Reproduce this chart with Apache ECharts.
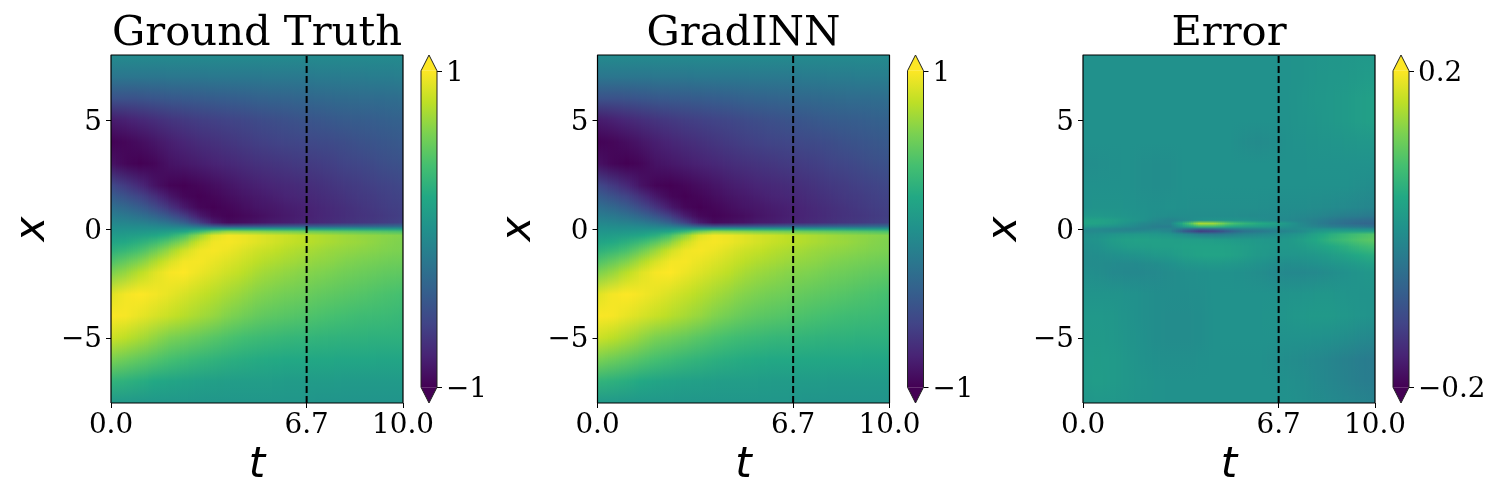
<!DOCTYPE html>
<html>
<head>
<meta charset="utf-8">
<style>
  html, body { margin: 0; background: #fff; }
  #chart { width: 1500px; height: 500px; }
</style>
<script src="https://cdn.jsdelivr.net/npm/echarts@6/dist/echarts.min.js"></script>
</head>
<body>
<div id="chart"></div>
<script>
const titles = ['Ground Truth', 'GradINN', 'Error']
const tTicks = [0, 6.7, 10]
const xTicks = [-5, 0, 5]
const slicePoint = 6.7
const frameT = [0, 10, 10, 0, 0]
const frameX = [-8, -8, 8, 8, -8]

const viridis = ['#440154', '#482475', '#414487', '#355f8d', '#2a788e', '#21918c',
  '#22a884', '#44bf70', '#7ad151', '#bddf26', '#fde725']

// sample columns
const tColumns = [0, 0.5, 1, 1.5, 2, 2.5, 3, 3.5, 4, 4.5, 5, 5.5, 6, 6.5, 7, 7.5, 8, 8.5, 9, 9.5, 10]

const fieldRows = [8, 7, 6, 5, 4, 3, 2, 1.5, 1, 0.6, 0.3, 0.12, 0, -0.12, -0.3, -0.6, -1, -1.5, -2, -3, -4, -5, -6, -7, -8]
const groundTruth = [
  [-.05, -.05, -.05, -.05, -.05, -.05, -.05, -.05, -.05, -.05, -.05, -.05, -.05, -.05, -.05, -.05, -.05, -.05, -.05, -.05, -.05],
  [-.22, -.22, -.22, -.22, -.21, -.21, -.21, -.2, -.2, -.2, -.2, -.19, -.19, -.19, -.18, -.18, -.17, -.17, -.16, -.16, -.15],
  [-.5, -.5, -.49, -.47, -.45, -.44, -.43, -.42, -.41, -.4, -.38, -.37, -.36, -.35, -.33, -.32, -.31, -.3, -.3, -.29, -.28],
  [-.85, -.82, -.78, -.74, -.7, -.67, -.64, -.62, -.6, -.58, -.55, -.53, -.51, -.49, -.47, -.45, -.43, -.42, -.41, -.39, -.38],
  [-.99, -.97, -.93, -.88, -.83, -.79, -.75, -.72, -.69, -.66, -.63, -.61, -.59, -.58, -.56, -.55, -.53, -.5, -.48, -.46, -.44],
  [-.9, -.97, -1, -.97, -.9, -.87, -.84, -.81, -.78, -.75, -.72, -.7, -.68, -.66, -.65, -.63, -.6, -.58, -.55, -.52, -.5],
  [-.56, -.66, -.77, -.9, -.98, -1, -.97, -.93, -.89, -.85, -.82, -.79, -.77, -.75, -.73, -.7, -.67, -.65, -.62, -.6, -.57],
  [-.41, -.5, -.6, -.73, -.87, -.97, -1, -.97, -.93, -.89, -.86, -.83, -.8, -.78, -.76, -.73, -.7, -.67, -.65, -.62, -.6],
  [-.27, -.33, -.42, -.55, -.7, -.86, -.97, -1, -.97, -.93, -.89, -.87, -.84, -.82, -.79, -.76, -.73, -.7, -.67, -.64, -.62],
  [-.16, -.2, -.26, -.35, -.48, -.64, -.84, -.96, -.99, -.96, -.93, -.89, -.86, -.83, -.8, -.77, -.74, -.71, -.69, -.66, -.63],
  [-.08, -.1, -.13, -.18, -.26, -.4, -.62, -.85, -.95, -.93, -.9, -.86, -.84, -.81, -.78, -.75, -.72, -.69, -.67, -.64, -.61],
  [-.03, -.04, -.05, -.07, -.11, -.16, -.26, -.4, -.48, -.47, -.46, -.44, -.42, -.41, -.39, -.38, -.36, -.35, -.34, -.32, -.31],
  [0, 0, 0, 0, 0, .02, .05, .1, .14, .14, .13, .13, .12, .12, .11, .1, .1, .1, .09, .09, .08],
  [.03, .04, .05, .07, .11, .18, .33, .55, .68, .66, .64, .61, .59, .57, .55, .53, .51, .49, .47, .45, .43],
  [.08, .1, .13, .18, .26, .42, .66, .9, .97, .95, .91, .87, .84, .8, .77, .74, .71, .68, .66, .64, .62],
  [.16, .2, .26, .35, .48, .64, .84, .96, .98, .95, .91, .87, .83, .8, .77, .74, .71, .69, .66, .63, .61],
  [.27, .33, .42, .55, .7, .86, .96, .98, .95, .9, .85, .82, .78, .75, .72, .69, .67, .65, .63, .61, .6],
  [.43, .52, .62, .75, .88, .97, .98, .94, .9, .85, .8, .76, .73, .7, .67, .65, .62, .6, .58, .56, .55],
  [.6, .68, .79, .9, .98, 1, .95, .9, .85, .8, .74, .7, .67, .64, .62, .6, .57, .55, .53, .51, .5],
  [.9, .97, 1, .97, .93, .88, .83, .78, .73, .68, .63, .6, .57, .55, .52, .5, .48, .46, .44, .42, .4],
  [.99, .98, .93, .88, .83, .78, .73, .68, .62, .57, .52, .49, .47, .45, .43, .41, .39, .37, .36, .35, .33],
  [.85, .8, .74, .67, .6, .56, .52, .47, .43, .39, .36, .34, .32, .31, .3, .29, .28, .28, .27, .27, .27],
  [.6, .55, .5, .45, .4, .36, .32, .29, .26, .24, .22, .21, .2, .2, .19, .19, .18, .18, .18, .17, .17],
  [.3, .27, .24, .2, .17, .15, .13, .12, .11, .1, .1, .1, .09, .09, .09, .09, .08, .08, .08, .08, .08],
  [.06, .06, .05, .05, .05, .05, .04, .04, .04, .04, .04, .04, .04, .04, .03, .03, .03, .03, .03, .03, .03]
]
// same picture as Ground Truth at this resolution
const gradInn = groundTruth

const errorRows = [8, 7, 6, 5, 4, 3, 2, 1, 0.6, 0.4, 0.25, 0.1, 0, -0.1, -0.25, -0.5, -0.8, -1.2, -1.6, -2, -3, -4, -5, -6, -7, -8]
const errorField = [
  [0, 0, 0, 0, 0, 0, 0, 0, 0, 0, 0, 0, 0, 0, .002, .004, .006, .008, .01, .012, .012],
  [0, 0, 0, 0, 0, 0, 0, 0, 0, 0, 0, 0, 0, 0, .002, .004, .008, .01, .012, .016, .018],
  [0, 0, 0, 0, 0, 0, 0, 0, 0, 0, 0, 0, 0, 0, .002, .006, .01, .012, .016, .022, .026],
  [0, 0, 0, 0, 0, 0, 0, 0, 0, 0, 0, 0, 0, 0, .002, .005, .008, .012, .016, .022, .026],
  [0, 0, 0, 0, 0, 0, 0, 0, 0, 0, 0, -.006, -.01, -.006, 0, .002, .004, .006, .008, .01, .012],
  [-.006, -.004, -.002, 0, -.004, -.006, -.004, 0, 0, 0, 0, 0, 0, 0, 0, 0, .002, .002, .002, .002, 0],
  [0, 0, 0, 0, -.004, -.006, -.004, 0, 0, 0, 0, 0, 0, 0, 0, 0, 0, 0, 0, -.004, -.008],
  [0, .004, .004, .002, 0, -.002, 0, -.002, -.004, -.004, -.004, -.004, -.004, -.006, -.006, -.006, -.008, -.01, -.012, -.016, -.02],
  [.012, .012, .01, .006, .002, -.004, -.006, -.006, -.006, -.006, -.006, -.008, -.01, -.01, -.01, -.014, -.018, -.024, -.03, -.034, -.04],
  [.03, .03, .024, .012, .002, -.012, -.022, -.012, 0, .004, .004, .002, -.004, -.01, -.014, -.02, -.028, -.04, -.05, -.056, -.06],
  [.034, .03, .02, .004, -.012, -.022, -.02, .06, .15, .14, .09, .06, .045, .03, .01, -.014, -.03, -.045, -.055, -.065, -.07],
  [.014, .01, .002, -.008, -.02, -.03, -.03, .02, .06, .06, .04, .025, .02, .01, 0, -.01, -.02, -.03, -.035, -.04, -.05],
  [-.01, -.012, -.016, -.022, -.024, -.02, -.02, -.05, -.07, -.06, -.04, -.025, -.02, -.015, -.01, -.004, 0, .002, 0, -.004, -.006],
  [-.012, -.012, -.016, -.016, -.012, -.006, -.02, -.09, -.13, -.12, -.08, -.05, -.04, -.03, -.02, -.01, .01, .02, .024, .024, .024],
  [-.004, -.002, .006, .012, .014, .012, .006, -.01, -.03, -.035, -.03, -.02, -.015, -.01, 0, .01, .03, .05, .065, .08, .09],
  [0, .004, .018, .026, .028, .026, .024, .022, .022, .02, .018, .014, .012, .01, .012, .024, .04, .06, .075, .09, .1],
  [-.004, 0, .012, .02, .022, .024, .024, .028, .03, .03, .028, .022, .016, .012, .012, .018, .028, .04, .052, .068, .08],
  [-.008, -.006, -.002, .002, .006, .012, .016, .024, .03, .032, .03, .022, .014, .008, .006, .008, .012, .02, .03, .042, .05],
  [-.008, -.008, -.01, -.012, -.01, -.006, 0, .008, .012, .014, .012, .008, .002, -.004, -.006, -.004, 0, .006, .012, .02, .028],
  [-.004, -.006, -.012, -.014, -.014, -.012, -.008, -.004, -.002, 0, 0, -.002, -.006, -.012, -.014, -.014, -.012, -.006, 0, .006, .012],
  [.006, .006, .004, .002, -.002, -.006, -.006, -.006, -.004, 0, .002, .002, .002, .002, .004, .006, .008, .008, .006, .004, .004],
  [.012, .012, .01, .004, -.002, -.006, -.008, -.008, -.006, 0, .002, .002, .002, .004, .008, .012, .014, .014, .01, .006, .002],
  [.012, .014, .012, .006, 0, -.006, -.008, -.008, -.006, 0, .002, .002, .002, .002, .002, .002, 0, -.002, -.006, -.012, -.016],
  [.016, .018, .016, .01, .002, -.002, -.004, -.004, -.002, 0, 0, 0, 0, -.004, -.006, -.01, -.014, -.02, -.026, -.032, -.036],
  [.016, .02, .016, .01, .006, .002, 0, 0, 0, 0, 0, 0, 0, 0, -.002, -.006, -.012, -.018, -.024, -.03, -.034],
  [.008, .01, .01, .008, .004, .002, 0, 0, 0, 0, 0, 0, 0, 0, 0, -.004, -.008, -.012, -.016, -.02, -.024]
]

const panels = [
  { rows: fieldRows, values: groundTruth, limit: 1, left: 111 },
  { rows: fieldRows, values: gradInn, limit: 1, left: 597.5 },
  { rows: errorRows, values: errorField, limit: 0.2, left: 1083 }
]

const serif = '"DejaVu Serif", serif'
const tickFont = { color: '#000', fontFamily: serif, fontSize: 27.8 }
const axisName = { color: '#000', fontFamily: '"DejaVu Sans", sans-serif', fontStyle: 'italic', fontSize: 42 }
const blackLine = { lineStyle: { color: '#000', width: 1 } }
const minus = (v) => String(v).replace('-', '\u2212')
const stripShades = 8
// top-aligned with a tiny line box: drops the y labels onto their ticks
const yLabelShift = { verticalAlign: 'top', lineHeight: 5 }

const valueColor = (v, limit) => echarts.color.lerp((v + limit) / (2 * limit), viridis)

// the span from one t column to the next, painted as thin strips so the cells read as smooth shading
const renderField = (panel) => (params, api) => {
  const i = params.dataIndex
  if (i === tColumns.length - 1) return null
  const children = []
  for (let s = 0; s < stripShades; s++) {
    const f = (s + 0.5) / stripShades
    const tLeft = tColumns[i] + (tColumns[i + 1] - tColumns[i]) * s / stripShades
    const tRight = tColumns[i] + (tColumns[i + 1] - tColumns[i]) * (s + 1) / stripShades
    const a = api.coord([tLeft, 8])
    const b = api.coord([tRight, -8])
    const stops = panel.rows.map((x, r) => ({
      offset: (8 - x) / 16,
      color: valueColor(panel.values[r][i] * (1 - f) + panel.values[r][i + 1] * f, panel.limit)
    }))
    // whole pixels, otherwise the strip edges show as faint seams
    const left = Math.round(a[0])
    children.push({
      type: 'rect',
      shape: { x: left, y: a[1], width: Math.round(b[0]) - left, height: b[1] - a[1] },
      style: { fill: new echarts.graphic.LinearGradient(0, 0, 0, 1, stops) }
    })
  }
  return { type: 'group', children }
}

const renderColorbar = (limit) => (params, api) => {
  const over = limit * 1.1
  const pts = (list) => list.map((p) => api.coord(p))
  const a = api.coord([0, limit])
  const b = api.coord([1, -limit])
  const stops = viridis.map((c, k) => ({ offset: 1 - k / (viridis.length - 1), color: c }))
  return {
    type: 'group',
    children: [
      {
        type: 'rect',
        shape: { x: a[0], y: a[1], width: b[0] - a[0], height: b[1] - a[1] },
        style: { fill: new echarts.graphic.LinearGradient(0, 0, 0, 1, stops) }
      },
      { type: 'polygon', shape: { points: pts([[0, limit], [1, limit], [0.5, over]]) }, style: { fill: viridis[10] } },
      { type: 'polygon', shape: { points: pts([[0, -limit], [1, -limit], [0.5, -over]]) }, style: { fill: viridis[0] } },
      {
        type: 'polygon',
        shape: { points: pts([[0, limit], [0.5, over], [1, limit], [1, -limit], [0.5, -over], [0, -limit]]) },
        style: { fill: 'none', stroke: '#222', lineWidth: 1 }
      }
    ]
  }
}

const grid = []
const xAxis = []
const yAxis = []
const series = []
const title = []

panels.forEach((panel, p) => {
  const main = grid.length
  grid.push({ left: panel.left, top: 55, width: 292, height: 348, outerBoundsMode: 'none' })
  title.push({
    text: titles[p],
    left: panel.left + 146,
    top: 13,
    padding: 0,
    textAlign: 'center',
    textStyle: { color: '#000', fontFamily: serif, fontSize: 41.67, fontWeight: 'normal' }
  })
  xAxis.push({
    gridIndex: main,
    type: 'value',
    min: 0,
    max: 10,
    name: 't',
    nameLocation: 'middle',
    nameGap: 41,
    nameTextStyle: axisName,
    splitLine: { show: false },
    axisLine: { show: false, onZero: false },
    axisTick: { customValues: tTicks, length: 5, ...blackLine },
    axisLabel: { ...tickFont, customValues: tTicks, margin: 9, formatter: (v) => v.toFixed(1) }
  })
  yAxis.push({
    gridIndex: main,
    type: 'value',
    min: -8,
    max: 8,
    name: 'x',
    nameLocation: 'middle',
    nameGap: 57,
    nameTextStyle: axisName,
    splitLine: { show: false },
    axisLine: { show: false, onZero: false },
    axisTick: { customValues: xTicks, length: 5, ...blackLine },
    axisLabel: { ...tickFont, ...yLabelShift, customValues: xTicks, margin: 9, formatter: minus }
  })
  series.push({
    type: 'custom',
    xAxisIndex: main,
    yAxisIndex: main,
    clip: true,
    silent: true,
    data: tColumns.map((t) => [t, 0]),
    renderItem: renderField(panel)
  })
  series.push({
    type: 'line',
    xAxisIndex: main,
    yAxisIndex: main,
    silent: true,
    showSymbol: false,
    z: 4,
    lineStyle: { color: '#000', width: 2, type: [7, 3] },
    data: [[slicePoint, -8], [slicePoint, 8]]
  })
  series.push({
    type: 'line',
    xAxisIndex: main,
    yAxisIndex: main,
    silent: true,
    showSymbol: false,
    clip: false,
    z: 5,
    lineStyle: { color: '#000', width: 1.2 },
    data: frameT.map((t, k) => [t, frameX[k]])
  })

  const bar = grid.length
  const barTicks = [-panel.limit, panel.limit]
  grid.push({ left: panel.left + 310, top: 55, width: 16, height: 348, outerBoundsMode: 'none' })
  xAxis.push({ gridIndex: bar, type: 'value', min: 0, max: 1, show: false })
  yAxis.push({
    gridIndex: bar,
    type: 'value',
    position: 'right',
    min: -panel.limit * 1.1,
    max: panel.limit * 1.1,
    splitLine: { show: false },
    axisLine: { show: false, onZero: false },
    axisTick: { customValues: barTicks, length: 5, ...blackLine },
    axisLabel: { ...tickFont, ...yLabelShift, customValues: barTicks, margin: 9, formatter: minus }
  })
  series.push({
    type: 'custom',
    xAxisIndex: bar,
    yAxisIndex: bar,
    clip: false,
    silent: true,
    data: [[0, 0]],
    renderItem: renderColorbar(panel.limit)
  })
})

const chart = echarts.init(document.getElementById('chart'))
chart.setOption({
  animation: false,
  backgroundColor: '#fff',
  title,
  grid,
  xAxis,
  yAxis,
  series
})
</script>
</body>
</html>
